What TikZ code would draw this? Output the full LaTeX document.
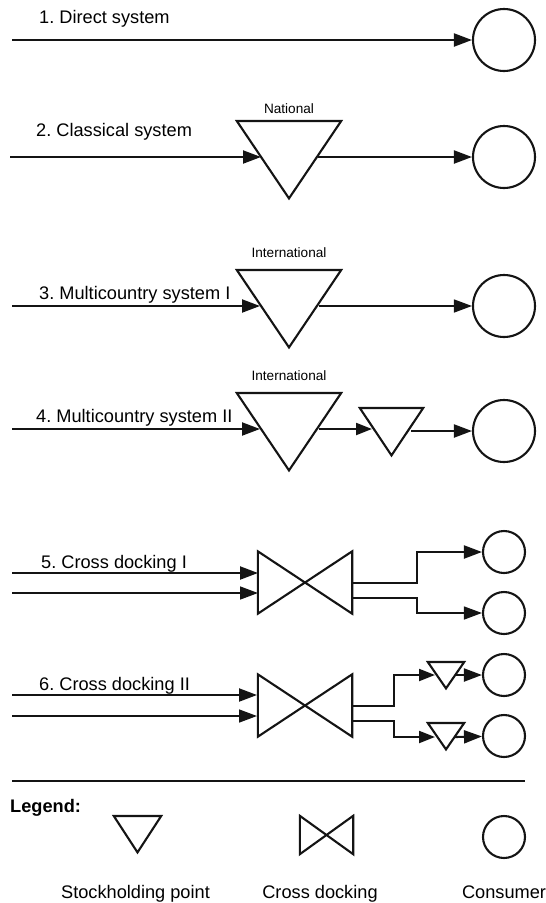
\documentclass[tikz,border=0pt]{standalone}
\usepackage{fontspec}
\setmainfont{Liberation Sans}
\usetikzlibrary{arrows.meta}
\frenchspacing
\tikzset{
  ln/.style={line width=2.1pt,draw=black!92},
  thin ln/.style={line width=1.5pt,draw=black!92},
  arr/.style={ln,-{Triangle[length=18pt,width=13pt]}},
  thin arr/.style={thin ln,-{Triangle[length=18pt,width=13pt]}},
  sarr/.style={ln,-{Triangle[length=16pt,width=12pt]}},
  cons/.style={circle,ln,inner sep=0pt},
  big/.style={font=\fontsize{18.2}{21}\selectfont,anchor=base west,inner sep=0pt},
  small/.style={font=\fontsize{13.6}{16}\selectfont,inner sep=0pt},
  shape box/.style={rectangle,inner sep=0pt,minimum width=#1},
  lab/.style={font=\fontsize{18.2}{21}\selectfont,inner sep=0pt,anchor=base},
}
% name, centre x, top y, width, height (y grows downward)
\newcommand{\stockpt}[5]{%
  \node[shape box=#4 pt,minimum height=#5 pt,anchor=north] (#1) at (#2,#3) {};
  \draw[ln,line join=miter,fill=white] (#1.north west) -- (#1.north east) -- (#1.south) -- cycle;
}
\newcommand{\crossdock}[5]{%
  \node[shape box=#4 pt,minimum height=#5 pt] (#1) at (#2,#3) {};
  \draw[ln,line join=miter,fill=white] (#1.north west) -- (#1.south east) -- (#1.north east) -- (#1.south west) -- cycle;
}
\begin{document}
\begin{tikzpicture}[x=1pt,y=-1pt]
\useasboundingbox (0,0) rectangle (546,903);

% consumers
\node[cons,minimum size=62pt] (c1) at (504,40) {};
\node[cons,minimum size=62pt] (c2) at (504,157) {};
\node[cons,minimum size=62pt] (c3) at (504,306) {};
\node[cons,minimum size=62pt] (c4) at (504,431) {};
\node[cons,minimum size=42pt] (c5a) at (504,552) {};
\node[cons,minimum size=42pt] (c5b) at (504,613) {};
\node[cons,minimum size=42pt] (c6a) at (504,675) {};
\node[cons,minimum size=42pt] (c6b) at (504,736) {};

% free ends
\coordinate (s1) at (12,40);
\coordinate (s2) at (10,157);
\coordinate (s3) at (12,306);
\coordinate (s4) at (12,429);
\coordinate (s5a) at (12,573);
\coordinate (s5b) at (12,593);
\coordinate (s6a) at (12,695);
\coordinate (s6b) at (12,716);

% 1
\node[big] (t1) at (39,23) {1. Direct system};
\draw[arr] (s1) -- (c1);

% 2
\node[big] (t2) at (36,136) {2. Classical system};
\stockpt{n2}{289}{121}{104}{77}
\node[small] (l2) at (289,109) {National};
\coordinate (n2l) at (261,157);
\coordinate (n2r) at (318,157);
\draw[arr] (s2) -- (n2l);
\draw[arr] (n2r) -- (c2);

% 3
\node[big] (t3) at (39,299) {3. Multicountry system I};
\stockpt{n3}{289}{270}{104}{77}
\node[small] (l3) at (289,253) {International};
\coordinate (n3l) at (260,306);
\coordinate (n3r) at (319,306);
\draw[arr] (s3) -- (n3l);
\draw[thin arr] (n3r) -- (c3);

% 4
\node[big] (t4) at (36,422) {4. Multicountry system II};
\stockpt{n4}{289}{393}{104}{77}
\node[small] (l4) at (289,376) {International};
\stockpt{n4b}{391.5}{408}{63}{47}
\coordinate (n4l) at (260,429);
\coordinate (n4r) at (319,429);
\coordinate (n4bl) at (372,429);
\coordinate (n4br) at (411,431);
\draw[arr] (s4) -- (n4l);
\draw[sarr] (n4r) -- (n4bl);
\draw[arr] (n4br) -- (c4);

% 5
\node[big] (t5) at (41,568) {5. Cross docking I};
\crossdock{x5}{305}{582.5}{94}{62}
\coordinate (x5ia) at (258,573);
\coordinate (x5ib) at (258,593);
\coordinate (x5oa) at (352,583);
\coordinate (x5ob) at (352,598);
\draw[arr] (s5a) -- (x5ia);
\draw[thin arr] (s5b) -- (x5ib);
\draw[arr] (x5oa) -| (417,552) -- (c5a);
\draw[thin arr] (x5ob) -| (417,613) -- (c5b);

% 6
\node[big] (t6) at (39,690) {6. Cross docking II};
\crossdock{x6}{305}{705.5}{94}{62}
\coordinate (x6ia) at (257,695);
\coordinate (x6ib) at (257,716);
\coordinate (x6oa) at (352,706);
\coordinate (x6ob) at (352,721);
\draw[arr] (s6a) -- (x6ia);
\draw[thin arr] (s6b) -- (x6ib);
\stockpt{n6a}{446}{662}{36}{26}
\stockpt{n6b}{446}{723}{36}{26}
\coordinate (n6al) at (435,675);
\coordinate (n6ar) at (455,675);
\coordinate (n6bl) at (435,737);
\coordinate (n6br) at (455,737);
\draw[sarr] (x6oa) -| (394,675) -- (n6al);
\draw[sarr] (x6ob) -| (394,737) -- (n6bl);
\draw[arr] (n6ar) -- (c6a);
\draw[arr] (n6br) -- (c6b);

% legend
\coordinate (r1) at (12,781);
\coordinate (r2) at (525,781);
\draw[ln] (r1) -- (r2);
\node[big,font=\fontsize{18.2}{21}\selectfont\bfseries] (leg) at (10,812) {Legend:};
\stockpt{ls}{137.5}{816}{47}{36}
\crossdock{lx}{326.5}{835}{53}{38}
\node[cons,minimum size=42pt] (lc) at (504,837) {};
\node[lab] (ll1) at (135.5,898) {Stockholding point};
\node[lab] (ll2) at (320,898) {Cross docking};
\node[lab] (ll3) at (504,898) {Consumer};
\end{tikzpicture}
\end{document}
